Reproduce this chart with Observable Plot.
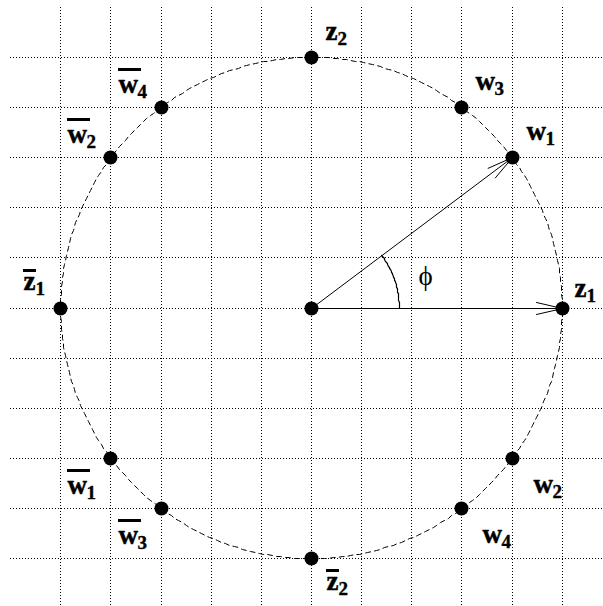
<!DOCTYPE html>
<html><head><meta charset="utf-8">
<script src="https://cdn.jsdelivr.net/npm/d3@7"></script>
<script src="https://cdn.jsdelivr.net/npm/@observablehq/plot@0.6"></script>
<style>
html,body{margin:0;padding:0;background:#fff;overflow:hidden}
#chart svg g[aria-description="label-letter"] text{font-family:"Liberation Serif","Times New Roman",serif !important;font-weight:700 !important;font-size:27px !important;}
#chart svg g[aria-description="label-sub"] text{font-family:"Liberation Serif","Times New Roman",serif !important;font-weight:700 !important;font-size:19px !important;}
#chart svg g[aria-description="label-phi"] text{font-family:"Liberation Serif","Times New Roman",serif !important;font-weight:400 !important;font-size:27px !important;}
</style>
</head><body>
<div id="chart"></div>
<script>
// ---- data ----
const letters    = ["z","w","w","z","w","w","z","w","w","z","w","w"];
const subscripts = ["1","1","3","2","4","2","1","1","3","2","4","2"];
const conjugate  = [false,false,false,false,true,true,true,true,true,true,false,false];
const re         = [5, 4, 3, 0, -3, -4, -5, -4, -3, 0, 3, 4];
const im         = [0, 3, 4, 5, 4, 3, 0, -3, -4, -5, -4, -3];
const gridTicks  = [-5,-4,-3,-2,-1,0,1,2,3,4,5];
const gridExtent = 6;
const circleRadius = 5;
const arrowTo    = ["z1","w1"];
const angleLabel = "ϕ";

// ---- layout ----
const W = 603, H = 606, U = 50.15, cx = 311, cy = 307.5;
const px = v => v / U;

const pts = re.map((x, i) => ({x, y: im[i], letter: letters[i], sub: subscripts[i], conj: conjugate[i], id: letters[i] + subscripts[i]}));

// label offsets (pixels: start x, baseline y relative to point)
function labelOffset(d) {
  if (d.y === 0 && d.x > 0) return [12, -12];
  if (d.x >= 0 && d.y > 0) return [14, -18];
  if (d.x < 0 && d.y > 0) return [-43, -15];
  if (d.x < 0 && d.y === 0) return [-37, -19];
  if (d.x < 0 && d.y < 0) return [-43, 35];
  if (d.x === 0 && d.y < 0) return [15, 31];
  return [21, 34];
}
pts.forEach(d => {
  const [ox, oy] = labelOffset(d);
  d.lx = d.x + px(ox);
  d.ly = d.y - px(oy);
});
const adv = {w: 19, z: 12};
const barW = {w: 23, z: 13};
const barH = {w: 23, z: 19};

const circle = d3.range(0, 361).map(a => ({x: circleRadius * Math.cos(a * Math.PI / 180), y: circleRadius * Math.sin(a * Math.PI / 180)}));
const phi = Math.atan2(3, 4);
const arcR = 1.75;
const arc = d3.range(0, 41).map(k => ({x: arcR * Math.cos(phi * k / 40), y: arcR * Math.sin(phi * k / 40)}));
const arrows = pts.filter(d => arrowTo.includes(d.id) && !d.conj);
const phiPos = [{x: 2.36 * Math.cos(phi * 0.42), y: 2.36 * Math.sin(phi * 0.42), t: angleLabel}];

const font = "Liberation Serif, Times New Roman, serif";
const LF = 27, SF = 19;

const chart = Plot.plot({
  width: W, height: H,
  margin: 0,
  x: {domain: [(0 - cx) / U, (W - cx) / U], range: [0, W], axis: null, round: true},
  y: {domain: [(cy - H) / U, cy / U], range: [H, 0], axis: null, round: true},
  style: {background: "#fff", overflow: "hidden", fontFamily: font},
  marks: [
    Plot.ruleX(gridTicks, {x: d => d, y1: -gridExtent, y2: gridExtent, stroke: "#000", strokeWidth: 1, strokeDasharray: "1,2"}),
    Plot.ruleY(gridTicks, {y: d => d, x1: -gridExtent, x2: gridExtent, stroke: "#000", strokeWidth: 1, strokeDasharray: "1,2"}),
    Plot.line(circle, {x: "x", y: "y", stroke: "#000", strokeWidth: 1, strokeDasharray: "5,4"}),
    Plot.line(arc, {x: "x", y: "y", stroke: "#000", strokeWidth: 1.2}),
    Plot.arrow(arrows, {x1: 0, y1: 0, x2: "x", y2: "y", stroke: "#000", strokeWidth: 1, headAngle: 26, headLength: 40}),
    Plot.dot(pts, {x: "x", y: "y", r: 7, fill: "#000"}),
    Plot.dot([{x: 0, y: 0}], {x: "x", y: "y", r: 7, fill: "#000"}),
    Plot.text(pts, {x: "lx", y: "ly", text: "letter", textAnchor: "start", fontSize: LF, fontWeight: "bold", fontFamily: font, fill: "#000", stroke: "#000", strokeWidth: 0.5, dy: -0.32 * LF, ariaDescription: "label-letter"}),
    Plot.text(pts, {x: d => d.lx + px(adv[d.letter]), y: d => d.ly - px(5), text: "sub", textAnchor: "start", fontSize: SF, fontWeight: "bold", fontFamily: font, fill: "#000", stroke: "#000", strokeWidth: 0.4, dy: -0.32 * SF, ariaDescription: "label-sub"}),
    Plot.ruleY(pts.filter(d => d.conj), {y: d => d.ly + px(barH[d.letter]), x1: "lx", x2: d => d.lx + px(barW[d.letter]), stroke: "#000", strokeWidth: 3}),
    Plot.text(phiPos, {x: "x", y: "y", text: "t", fontSize: 27, fontFamily: font, fill: "#000", ariaDescription: "label-phi"})
  ]
});
document.getElementById("chart").appendChild(chart);
</script>
</body></html>
